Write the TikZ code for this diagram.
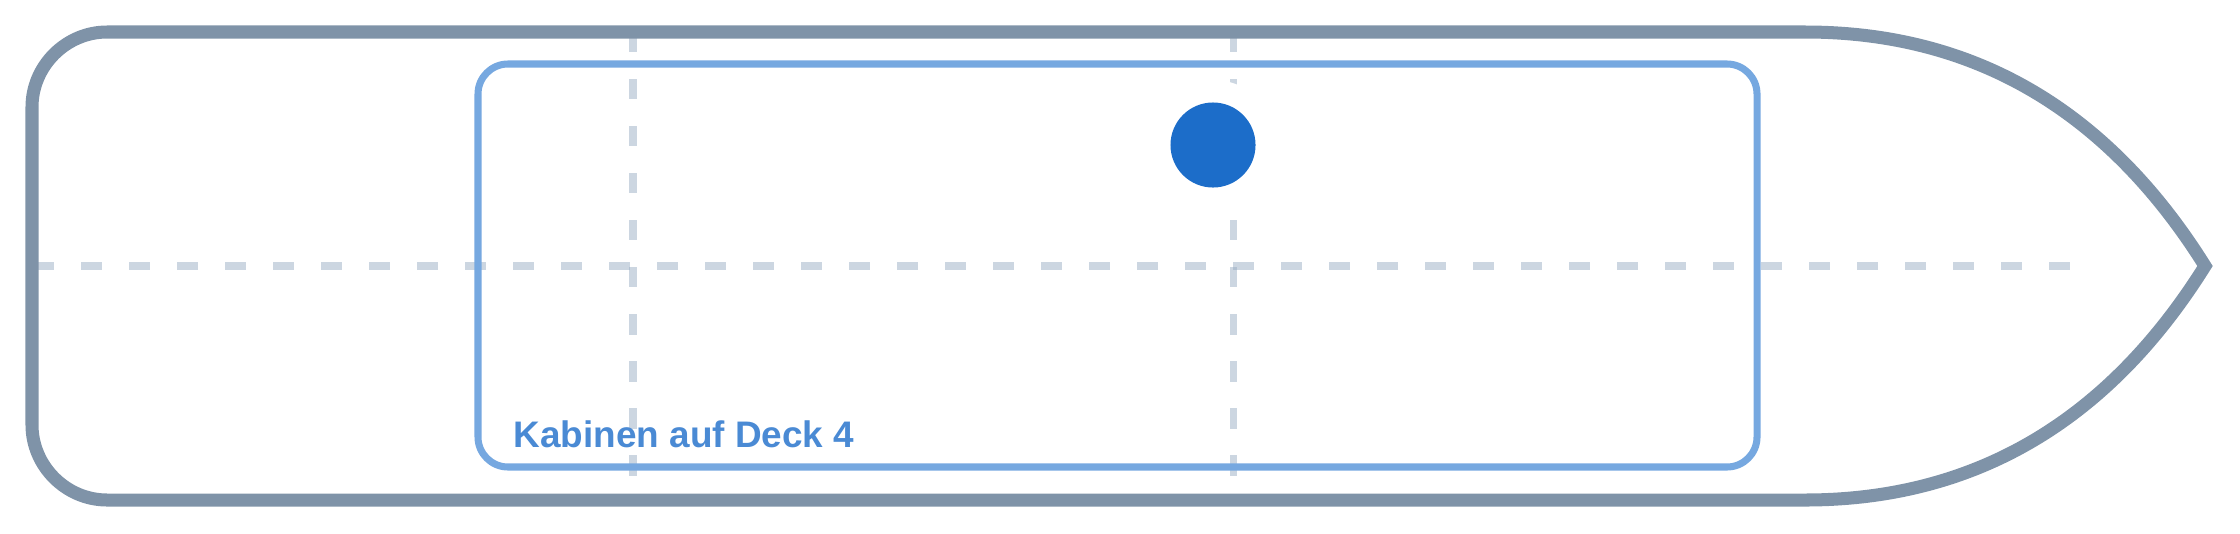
\documentclass[tikz,border=0pt]{standalone}
\usepackage{fontspec}
\setmainfont{Liberation Sans}
\definecolor{hullgray}{HTML}{7F93A8}
\definecolor{cabinblue}{HTML}{76A8E0}
\definecolor{guidegray}{HTML}{8FA5BD}
\definecolor{dotblue}{HTML}{1C6DC9}
\definecolor{labelblue}{HTML}{4A8AD4}
\begin{document}
\begin{tikzpicture}[x=0.01cm,y=-0.01cm,
    guide/.style={draw=guidegray,draw opacity=0.45,line width=2pt,dash pattern=on 6pt off 7.65pt},
    hullline/.style={draw=hullgray,line width=3.7pt,line join=miter},
    cabinline/.style={draw=cabinblue,line width=2pt}]
    \useasboundingbox (0,0) rectangle (2240,533);
    %% centre lines
    \draw[guide] (33,266) -- (2070,266);
    \draw[guide,dash pattern=on 5.8pt off 7.57pt] (633,32) -- (633,476);
    \draw[guide,dash pattern=on 5.8pt off 7.57pt] (1233,32) -- (1233,476);
    %% cabin block
    \draw[cabinline,rounded corners=3mm] (478,64) rectangle (1757,467);
    \node[anchor=base west,inner sep=0,text=labelblue,font=\bfseries\fontsize{10.5}{12}\selectfont] (cabinlabel) at (513,447.7) {Kabinen auf Deck 4};
    %% hull
    \draw[hullline] (1805,32) -- (107,32)
        .. controls (66,32) and (32,66) .. (32,107) -- (32,425)
        .. controls (32,466) and (66,500) .. (107,500) -- (1805,500)
        .. controls (1975,500) and (2108,421) .. (2205,266)
        .. controls (2108,111) and (1975,32) .. cycle;
    %% position
    \node[circle,fill=white,inner sep=0,minimum size=1.3cm] (halo) at (1213,145) {};
    \node[circle,fill=dotblue,inner sep=0,minimum size=0.85cm] (dot) at (halo) {};
\end{tikzpicture}
\end{document}
